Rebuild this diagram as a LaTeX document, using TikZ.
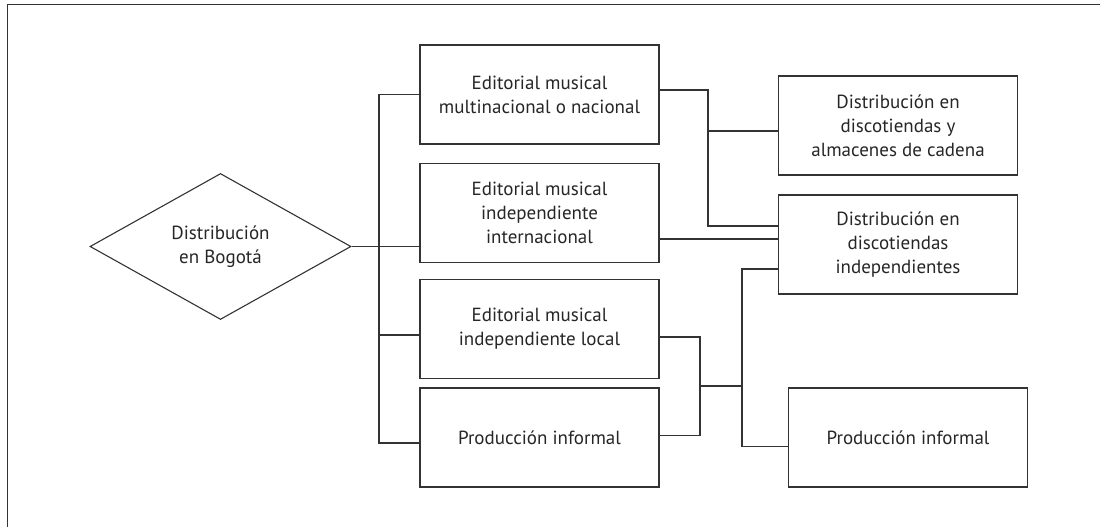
\documentclass[tikz,border=0pt]{standalone}
\usepackage{fontspec}
\setmainfont{PT Sans}
\usetikzlibrary{shapes.geometric}

\begin{document}
\begin{tikzpicture}[x=1pt, y=1pt, line width=1.1pt, draw=black!80, text=black!85,
  box/.style={draw, rectangle, minimum width=239pt, minimum height=99pt, inner sep=0pt, align=center},
  rombo/.style={draw, diamond, minimum width=261pt, minimum height=146pt, inner sep=0pt, align=center}]
\fontsize{19}{24}\selectfont
\useasboundingbox (0,0) rectangle (1100,527);
\draw (7.5,0) -- (7.5,522.5) -- (1100,522.5);
\node[rombo] (0) at (220.5, 280.5) {Distribución\\en Bogotá};
\node[box] (1) at (539.5, 432.5) {Editorial musical\\multinacional o nacional};
\node[box] (2) at (539.5, 314) {Editorial musical\\independiente\\internacional};
\node[box] (3) at (539.5, 198) {Editorial musical\\independiente local};
\node[box] (4) at (539.5, 89.5) {Producción informal};
\node[box] (5) at (898, 401.5) {Distribución en\\discotiendas y\\almacenes de cadena};
\node[box] (6) at (898, 282.5) {Distribución en\\discotiendas\\independientes};
\node[box] (7) at (908, 89.5) {Producción informal};
\coordinate (t3) at (379, 192);
\coordinate (t4) at (379, 84);
\coordinate (k1) at (708, 396);
\coordinate (k2) at (708, 301);
\coordinate (k3) at (742, 258);
\coordinate (k4) at (742, 80.5);
\coordinate (k5) at (742, 141);
\coordinate (k6) at (700, 141);
\draw (0.east) -- (0.east -| 2.west);
\draw (1.west) -| (t4) -- (t4 -| 4.west);
\draw (t3) -- (t3 -| 3.west);
\draw ([yshift=4.5pt]1.east) -| (k2) -- (k2 -| 6.west);
\draw (k1) -- (k1 -| 5.west);
\draw ([yshift=-26pt]2.east) -- ([yshift=5.5pt]6.west);
\draw (k3 -| 6.west) -| (k4) -- (k4 -| 7.west);
\draw ([yshift=-8pt]3.east) -| (k6) |- ([yshift=2pt]4.east);
\draw (k6) -- (k5);
\end{tikzpicture}
\end{document}
